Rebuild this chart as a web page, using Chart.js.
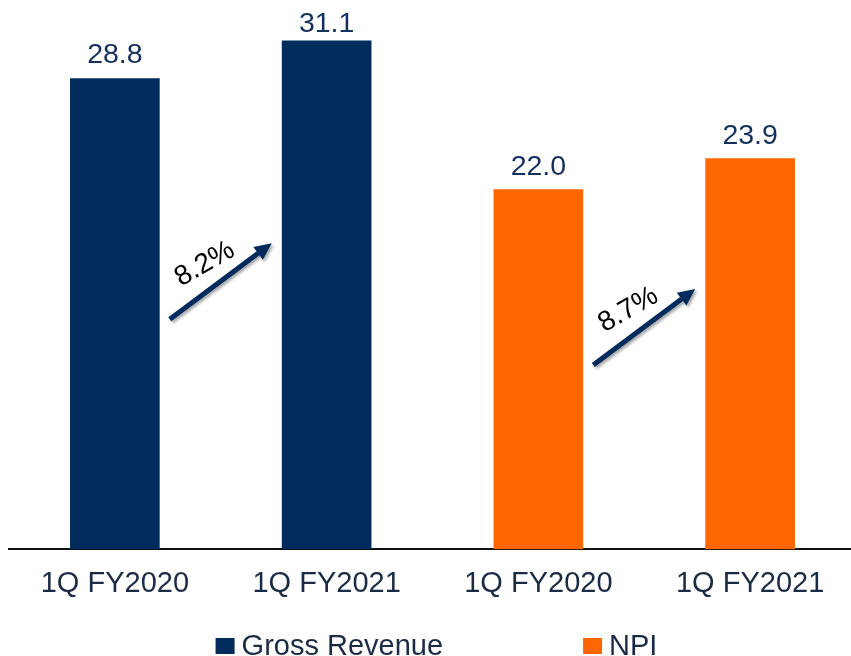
<!DOCTYPE html>
<html>
<head>
<meta charset="utf-8">
<title>Gross Revenue and NPI</title>
<script src="https://cdn.jsdelivr.net/npm/chart.js@4.4.1/dist/chart.umd.min.js"></script>
<style>
  html, body { margin: 0; padding: 0; background: #fff; overflow: hidden; }
  .chart-box { position: absolute; left: 0; top: 0; width: 862px; height: 656px; }
</style>
</head>
<body>
<div class="chart-box"><canvas id="chartRevenue"></canvas></div>
<script>
// quarterly figures (S$ million)
const categories = ['1Q FY2020', '1Q FY2021', '1Q FY2020', '1Q FY2021'];
const grossRevenue = [28.8, 31.1, null, null];
const npi = [null, null, 22.0, 23.9];

// year-on-year growth arrows: from bar index, label, height of arrow middle
const growthFrom = [0, 2];
const growthText = ['8.2%', '8.7%'];
const growthArrowMid = [16.4, 13.6];

const FONT = '"Liberation Sans", Arial, sans-serif';
const NAVY = '#002b5c';
const ORANGE = '#ff6600';
const TEXT = '#1c2b45';

// value on top of each bar
const valueLabels = {
  id: 'valueLabels',
  afterDatasetsDraw(chart) {
    const ctx = chart.ctx;
    ctx.save();
    ctx.font = '28.5px ' + FONT;
    ctx.fillStyle = '#14305c';
    ctx.textAlign = 'center';
    ctx.textBaseline = 'alphabetic';
    chart.data.datasets.forEach((ds, i) => {
      chart.getDatasetMeta(i).data.forEach((bar, j) => {
        if (ds.data[j] == null) return;
        ctx.fillText(ds.data[j].toFixed(1), bar.x, Math.max(bar.y - 15, 32));
      });
    });
    ctx.restore();
  }
};

// growth arrows between the pairs of bars
const growthArrows = {
  id: 'growthArrows',
  afterDatasetsDraw(chart) {
    const ctx = chart.ctx;
    const x = chart.scales.x, y = chart.scales.y;
    growthFrom.forEach((idx, k) => {
      const cx = (x.getPixelForValue(idx) + x.getPixelForValue(idx + 1)) / 2;
      const cy = y.getPixelForValue(growthArrowMid[k]);
      const hx = 51, hy = -38;
      const x0 = cx - hx, y0 = cy - hy, x1 = cx + hx, y1 = cy + hy;
      const ang = Math.atan2(y1 - y0, x1 - x0);
      const headLen = 17, headW = 8;
      const bx = x1 - headLen * Math.cos(ang), by = y1 - headLen * Math.sin(ang);

      ctx.save();
      ctx.shadowColor = 'rgba(0,0,0,0.35)';
      ctx.shadowBlur = 3;
      ctx.shadowOffsetX = 2;
      ctx.shadowOffsetY = 2;
      ctx.strokeStyle = NAVY;
      ctx.fillStyle = NAVY;
      ctx.lineWidth = 5;
      ctx.beginPath();
      ctx.moveTo(x0, y0);
      ctx.lineTo(bx, by);
      ctx.stroke();
      ctx.beginPath();
      ctx.moveTo(x1, y1);
      ctx.lineTo(bx + headW * Math.sin(ang), by - headW * Math.cos(ang));
      ctx.lineTo(bx - headW * Math.sin(ang), by + headW * Math.cos(ang));
      ctx.closePath();
      ctx.fill();
      ctx.restore();

      ctx.save();
      ctx.translate(cx - 16, cy - 17);
      ctx.rotate(-30 * Math.PI / 180);
      ctx.font = '28px ' + FONT;
      ctx.fillStyle = '#000';
      ctx.textAlign = 'center';
      ctx.textBaseline = 'middle';
      ctx.fillText(growthText[k], 0, 0);
      ctx.restore();
    });
  }
};

// legend row under the axis
const bottomLegend = {
  id: 'bottomLegend',
  afterDraw(chart) {
    const ctx = chart.ctx;
    const area = chart.chartArea;
    ctx.save();
    ctx.font = '29px ' + FONT;
    ctx.textBaseline = 'alphabetic';
    const box = 19, gap = 7, spacing = 140;
    const items = chart.data.datasets.map(ds => ({
      text: ds.label, color: ds.backgroundColor, w: ctx.measureText(ds.label).width
    }));
    let total = 0;
    items.forEach((it, i) => { total += box + gap + it.w + (i ? spacing : 0); });
    let px = (area.left + area.right) / 2 - total / 2 + 4;
    const base = 655;
    items.forEach(it => {
      ctx.fillStyle = it.color;
      ctx.fillRect(px, base - 17, box, 16);
      ctx.fillStyle = TEXT;
      ctx.fillText(it.text, px + box + gap, base);
      px += box + gap + it.w + spacing;
    });
    ctx.restore();
  }
};

new Chart(document.getElementById('chartRevenue'), {
  type: 'bar',
  data: {
    labels: categories,
    datasets: [
      { label: 'Gross Revenue', data: grossRevenue, backgroundColor: NAVY },
      { label: 'NPI', data: npi, backgroundColor: ORANGE }
    ]
  },
  options: {
    responsive: true,
    maintainAspectRatio: false,
    animation: false,
    skipNull: true,
    barThickness: 89,
    layout: { padding: { left: 9, right: 6, top: 0, bottom: 38 } },
    plugins: {
      legend: { display: false },
      tooltip: { enabled: false }
    },
    scales: {
      x: {
        grid: { display: false, drawTicks: false },
        border: { display: true, color: '#111', width: 2 },
        ticks: { color: TEXT, font: { family: FONT, size: 29 }, padding: 17 }
      },
      y: {
        display: false,
        min: 0,
        max: 33.6
      }
    }
  },
  plugins: [valueLabels, growthArrows, bottomLegend]
});
</script>
</body>
</html>
